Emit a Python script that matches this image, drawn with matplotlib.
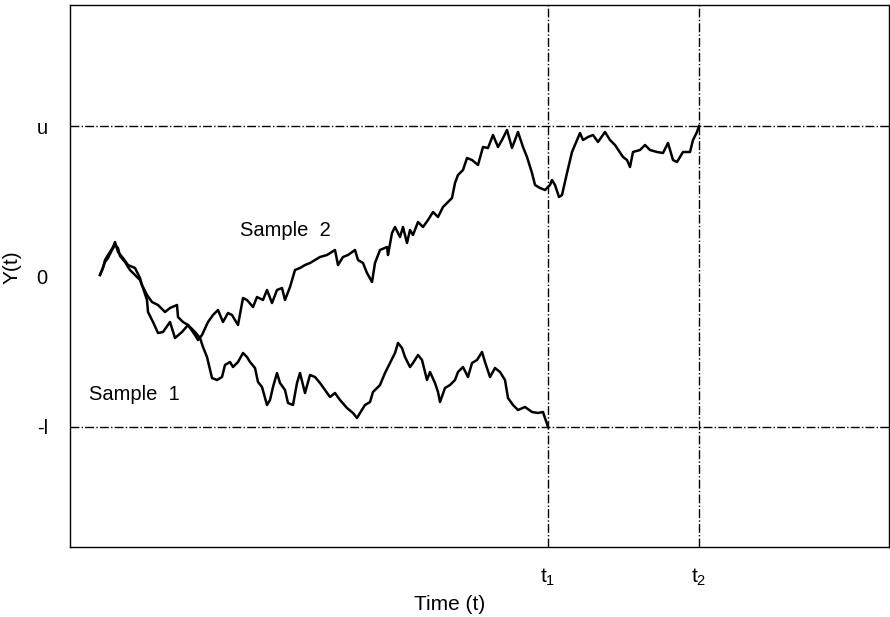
import matplotlib
matplotlib.use("Agg")
import matplotlib.pyplot as plt

plt.rcParams["font.family"] = ["Liberation Sans", "DejaVu Sans"]

# boundaries and times
u = 151
l = 150
t1 = 478
t2 = 629

# sample 1 (stops when it hits -l at t1)
s1_t = [30, 33, 35, 38, 40, 43, 45, 48, 53, 58,
        65, 70, 72, 77, 82, 88, 95, 100, 107, 108,
        113, 118, 125, 130, 133, 137, 142, 147, 152, 155,
        160, 163, 168, 173, 177, 180, 185, 188, 192, 197,
        200, 203, 207, 210, 215, 218, 223, 227, 230, 235,
        240, 245, 250, 255, 260, 265, 270, 277, 283, 287,
        290, 295, 300, 303, 310, 315, 320, 325, 328, 332,
        335, 340, 343, 348, 352, 357, 360, 365, 368, 370,
        375, 380, 385, 388, 393, 398, 402, 407, 412, 415,
        420, 425, 430, 435, 438, 443, 448, 455, 462, 468,
        473, 478]
s1_y = [2, 9, 17, 22, 25, 30, 35, 25, 19, 12,
        9, -1, -8, -18, -25, -28, -35, -31, -28, -40,
        -45, -48, -55, -61, -70, -80, -101, -103, -100, -88,
        -85, -90, -85, -76, -80, -85, -91, -105, -110, -128,
        -123, -110, -96, -106, -113, -126, -128, -106, -96, -116,
        -98, -100, -106, -113, -120, -116, -123, -131, -136, -141,
        -136, -128, -125, -115, -108, -96, -86, -76, -66, -71,
        -80, -90, -86, -78, -83, -103, -95, -106, -115, -125,
        -111, -108, -103, -95, -90, -100, -86, -83, -75, -85,
        -100, -91, -95, -103, -121, -128, -133, -130, -135, -136,
        -135, -150]

# sample 2 (stops when it hits u at t2)
s2_t = [30, 32, 35, 38, 42, 45, 48, 50, 55, 60,
        65, 70, 73, 77, 78, 83, 88, 93, 100, 105,
        112, 118, 125, 128, 132, 138, 143, 148, 153, 158,
        162, 168, 173, 177, 183, 187, 193, 197, 202, 207,
        212, 215, 220, 225, 230, 235, 240, 245, 250, 257,
        265, 268, 273, 278, 285, 288, 293, 297, 302, 305,
        310, 317, 318, 322, 325, 330, 333, 337, 340, 343,
        348, 353, 358, 363, 368, 373, 378, 382, 385, 388,
        393, 397, 402, 408, 413, 418, 423, 428, 432, 437,
        442, 448, 453, 457, 462, 465, 470, 475, 480, 482,
        485, 489, 492, 497, 502, 510, 513, 518, 523, 528,
        535, 540, 545, 553, 557, 560, 563, 570, 575, 580,
        587, 593, 598, 603, 607, 613, 620, 623, 627, 629]
s2_y = [2, 7, 15, 19, 27, 32, 29, 21, 15, 7,
        2, -3, -11, -23, -35, -45, -56, -55, -45, -61,
        -55, -48, -58, -63, -58, -45, -38, -33, -45, -36,
        -38, -48, -21, -23, -30, -20, -23, -13, -26, -13,
        -11, -23, -10, 7, 9, 12, 14, 17, 20, 22,
        27, 12, 20, 22, 27, 17, 14, 4, -5, 14,
        27, 30, 22, 44, 50, 40, 50, 34, 47, 42,
        55, 50, 57, 65, 60, 70, 75, 79, 94, 102,
        107, 119, 117, 112, 130, 129, 142, 130, 137, 147,
        129, 145, 130, 120, 104, 92, 89, 87, 92, 97,
        92, 80, 82, 104, 125, 144, 137, 140, 142, 135,
        145, 137, 132, 120, 117, 110, 125, 127, 132, 127,
        125, 124, 134, 117, 115, 125, 125, 137, 145, 151]

fig = plt.figure(figsize=(8.9, 6.17), dpi=100)
ax = fig.add_axes([70 / 890, 70 / 617, 819 / 890, 542 / 617])

ax.plot(s1_t, s1_y, color="black", lw=1.8)
ax.plot(s2_t, s2_y, color="black", lw=1.8)

ax.axhline(u, color="black", lw=1.0, ls="-.")
ax.axhline(-l, color="black", lw=1.0, ls="-.")
ax.axvline(t1, color="black", lw=1.0, ls="-.")
ax.axvline(t2, color="black", lw=1.0, ls="-.")

ax.text(170, 47, "Sample  2", fontsize=14.5, va="center")
ax.text(19, -118, "Sample  1", fontsize=14.5, va="center")

ax.set_xlim(0, 819)
ax.set_ylim(-270, 272)

ax.set_yticks([-l, 0, u])
ax.set_yticklabels(["-l", "0", "u"], fontsize=14.5)
ax.set_xticks([t1, t2])
ax.set_xticklabels([r"$\mathregular{t_1}$", r"$\mathregular{t_2}$"], fontsize=15)
ax.tick_params(axis="y", length=0, pad=16)
ax.tick_params(axis="x", length=0, pad=14)

ax.set_xlabel("Time (t)", fontsize=15)
ax.xaxis.set_label_coords(0.464, -0.088)
ax.set_ylabel("Y(t)", fontsize=15)
ax.yaxis.set_label_coords(-0.059, 0.517)

for s in ax.spines.values():
    s.set_linewidth(1.0)

fig.savefig("out.png", dpi=100)
